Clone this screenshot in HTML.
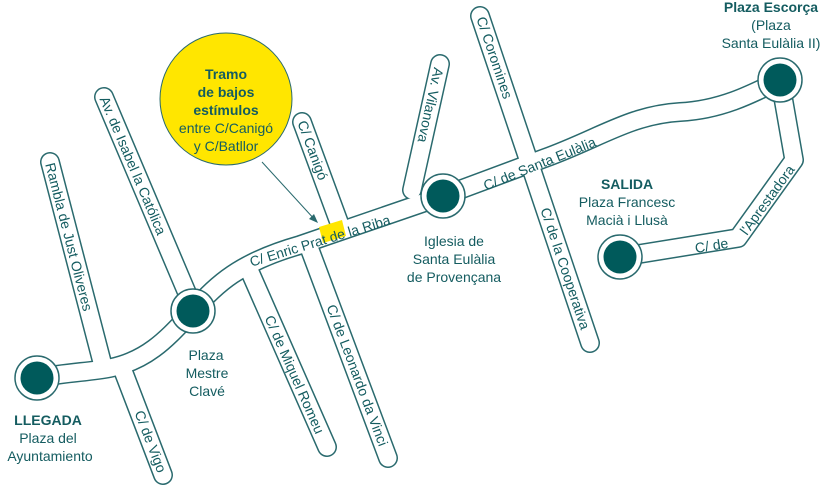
<!DOCTYPE html>
<html><head><meta charset="utf-8"><style>
html,body{margin:0;padding:0;background:#fff;}
svg{display:block;font-family:"Liberation Sans","DejaVu Sans",sans-serif;}
text{fill:#145c60;font-size:14px;}
.s{dominant-baseline:central;}
</style></head><body>
<svg width="824" height="487" viewBox="0 0 824 487" xmlns="http://www.w3.org/2000/svg">
<defs>
<g id="roads">
<path d="M37,378 C70,372 90,372 110,368 C150,360 170,335 193,311 C215,285 240,262 300,245 L443,196 L545,158 C600,138 630,115 680,112 C720,110 750,95 780,80"/>
<path d="M780,80 L794,160 L738,238 L620,257"/>
<path d="M50,162 L102,362"/>
<path d="M104,97 L190,300"/>
<path d="M122,368 L163,475"/>
<path d="M250,272 L327,447"/>
<path d="M310,250 L388,458"/>
<path d="M302,122 L340,225"/>
<path d="M440,64 L412,190"/>
<path d="M480,16 L590,343"/>
</g>
</defs>
<g fill="none" stroke="#2a6a6e" stroke-width="20" stroke-linecap="round" stroke-linejoin="round"><use href="#roads"/></g>
<g fill="none" stroke="#fff" stroke-width="17" stroke-linecap="round" stroke-linejoin="round"><use href="#roads"/></g>

<g stroke="#2a6a6e" stroke-width="1.5" fill="#fff">
<circle cx="37" cy="378" r="22"/><circle cx="193" cy="311" r="22"/><circle cx="443" cy="196" r="22"/><circle cx="780" cy="80" r="22"/><circle cx="620" cy="257" r="22"/>
</g>
<g fill="#005a5b">
<circle cx="37" cy="378" r="16.5"/><circle cx="193" cy="311" r="16.5"/><circle cx="443" cy="196" r="16.5"/><circle cx="780" cy="80" r="16.5"/><circle cx="620" cy="257" r="16.5"/>
</g>

<circle cx="226" cy="99" r="66" fill="#ffe600" stroke="#2a6a6e" stroke-width="1"/>
<line x1="262" y1="162" x2="316" y2="221" stroke="#2a6a6e" stroke-width="1"/>
<path d="M318,223 L309,219 L314,214 Z" fill="#2a6a6e"/>
<g text-anchor="middle">
<text x="226" y="79" font-weight="bold">Tramo</text>
<text x="226" y="97" font-weight="bold">de bajos</text>
<text x="226" y="115" font-weight="bold">estímulos</text>
<text x="226" y="133">entre C/Canigó</text>
<text x="226" y="151">y C/Batllor</text>
</g>

<polygon points="319,227 342,220 346,236 323,243" fill="#ffe600"/>

<g class="s">
<text transform="translate(250,262) rotate(-17)">C/ Enric Prat de la Riba</text>
<text transform="translate(484,186) rotate(-22)">C/ de Santa Eulàlia</text>
<text transform="translate(50,163) rotate(75.5)">Rambla de Just Oliveres</text>
<text transform="translate(104,97) rotate(67)">Av. de Isabel la Católica</text>
<text transform="translate(139,411) rotate(69)">C/ de Vigo</text>
<text transform="translate(269,316) rotate(66.3)">C/ de Miquel Romeu</text>
<text transform="translate(331,305) rotate(69.4)">C/ de Leonardo da Vinci</text>
<text transform="translate(302,121) rotate(69.7)">C/ Canigó</text>
<text transform="translate(439,68) rotate(102.5)">Av. Vilanova</text>
<text transform="translate(481,17) rotate(71.4)">C/ Coromines</text>
<text transform="translate(545,208) rotate(71.4)">C/ de la Cooperativa</text>
<text transform="translate(695,248) rotate(-9)">C/ de</text>
<text transform="translate(743,233) rotate(-54)">l'Aprestadora</text>
</g>

<g text-anchor="middle">
<text x="48" y="425" font-weight="bold">LLEGADA</text>
<text x="48" y="443">Plaza del</text>
<text x="50" y="461">Ayuntamiento</text>
<text x="206" y="360">Plaza</text>
<text x="207" y="378">Mestre</text>
<text x="207" y="396">Clavé</text>
<text x="454" y="246">Iglesia de</text>
<text x="454" y="264">Santa Eulàlia</text>
<text x="454" y="282">de Provençana</text>
<text x="627" y="189" font-weight="bold">SALIDA</text>
<text x="627" y="207">Plaza Francesc</text>
<text x="627" y="225">Macià i Llusà</text>
<text x="771" y="12" font-weight="bold">Plaza Escorça</text>
<text x="771" y="30">(Plaza</text>
<text x="771" y="48">Santa Eulàlia II)</text>
</g>
</svg>
</body></html>
